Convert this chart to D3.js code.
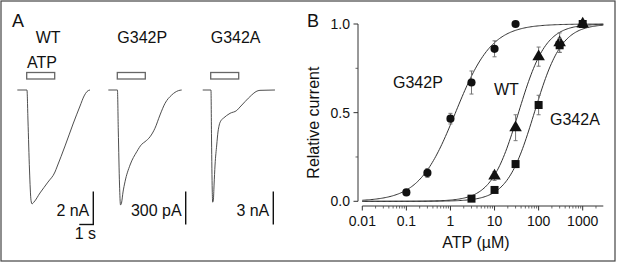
<!DOCTYPE html>
<html>
<head>
<meta charset="utf-8">
<script src="https://cdn.jsdelivr.net/npm/d3@7"></script>
<style>
  body { margin: 0; background: #fff; }
  svg text { font-family: "Liberation Sans", Arial, sans-serif; fill: #111; }
</style>
</head>
<body>
<div id="fig"></div>
<script>
// panel A traces: time (s from ATP onset) and current
const wtTime = [-0.67, 0.02, 0.09, 0.2, 0.31, 0.38, 0.52, 0.95, 1.52, 2.02, 2.16, 2.74, 3.31, 3.81, 4.1, 4.31, 4.52];
const wtCurrent = [0, 0, -1.82, -4.85, -6.7, -6.9, -6.79, -6.24, -5.58, -4.97, -4.67, -3.39, -2.06, -0.97, -0.36, -0.09, 0]; // nA
const pTime = [-0.64, 0.01, 0.07, 0.16, 0.23, 0.3, 0.41, 0.55, 0.91, 1.39, 1.74, 1.98, 2.34, 2.69, 3.05, 3.41, 3.89, 4.36, 4.6];
const pCurrent = [0, 0, -364, -864, -1045, -1027, -927, -834, -682, -561, -494, -470, -425, -348, -227, -121, -45, -6, 0]; // pA
const aTime = [-0.57, 0.02, 0.06, 0.11, 0.14, 0.19, 0.24, 0.31, 0.43, 0.52, 0.61, 0.74, 0.9, 1.38, 1.86, 2.09, 2.45, 2.93, 3.24, 3.52, 4.59];
const aCurrent = [0, 0, -4.55, -9.09, -10.2, -10.0, -8.64, -6.82, -5.0, -3.82, -3.18, -2.77, -2.57, -2.12, -1.86, -1.55, -1.06, -0.45, -0.14, -0.03, 0]; // nA
const traceNames = ["WT", "G342P", "G342A"];
const scaleBarLabels = ["2 nA", "300 pA", "3 nA"];
const scaleBarValues = [2, 300, 3];
const atpDuration = 2; // s

// panel B dose-response
const concP = [0.1, 0.3, 1, 3, 10, 30];
const respP = [0.05, 0.16, 0.466, 0.67, 0.86, 1.0];
const errP = [0, 0.025, 0.03, 0.065, 0.045, 0];
const concWT = [10, 30, 100, 300, 1000];
const respWT = [0.143, 0.415, 0.816, 0.895, 1.0];
const errWT = [0.025, 0.073, 0.054, 0.055, 0];
const concA = [3, 10, 30, 100, 300, 1000];
const respA = [0.015, 0.064, 0.21, 0.543, 0.88, 1.0];
const errA = [0, 0.01, 0.02, 0.055, 0.04, 0.01];
const fitEC50 = [1.3, 35, 80];
const fitHill = [1.05, 1.4, 1.4];
const xTickValues = [0.01, 0.1, 1, 10, 100, 1000];
const xTickLabels = ["0.01", "0.1", "1", "10", "100", "1000"];
const yTickValues = [0, 0.5, 1];

const W = 617, H = 263;
const svg = d3.select("#fig").append("svg")
    .attr("width", W)
    .attr("height", H);

svg.append("rect")
    .attr("x", 1).attr("y", 1)
    .attr("width", 614).attr("height", 260)
    .attr("fill", "none")
    .attr("stroke", "#444")
    .attr("stroke-width", 1.2);

// ---------- Panel A ----------
svg.append("text").attr("x", 12).attr("y", 27).attr("font-size", "18px").text("A");

const pxPerSec = 14;
const traces = [
    {t: wtTime, i: wtCurrent, x0: 26.7},
    {t: pTime, i: pCurrent, x0: 117.3},
    {t: aTime, i: aCurrent, x0: 210.7}
];
const baseY = 90;

traces.forEach((tr, k) => {
    let g = svg.append("g");
    let x = d3.scaleLinear().domain([0, 1]).range([tr.x0, tr.x0 + pxPerSec]);
    let y = d3.scaleLinear().domain([0, -scaleBarValues[k]]).range([baseY, baseY + 33]);

    g.append("text")
        .attr("x", tr.x0 + (k === 0 ? 9 : 0))
        .attr("y", 43)
        .attr("font-size", "16px")
        .text(traceNames[k]);

    g.append("rect")
        .attr("x", x(0)).attr("y", 72.5)
        .attr("width", x(atpDuration) - x(0)).attr("height", 6.5)
        .attr("fill", "#fff")
        .attr("stroke", "#666")
        .attr("stroke-width", 1.3);

    let line = d3.line()
        .x((d, j) => x(tr.t[j]))
        .y((d, j) => y(tr.i[j]))
        .curve(d3.curveMonotoneX);

    g.append("path")
        .datum(tr.t)
        .attr("d", line)
        .attr("fill", "none")
        .attr("stroke", "#3a3a3a")
        .attr("stroke-width", 0.9);

    // scale bar
    let barX = [93.3, 185.7, 273.3][k];
    let barTop = 191.5;
    let barLen = y(-scaleBarValues[k]) - y(0);
    g.append("line")
        .attr("x1", barX).attr("x2", barX)
        .attr("y1", barTop).attr("y2", barTop + barLen)
        .attr("stroke", "#111").attr("stroke-width", 1.4);
    g.append("text")
        .attr("x", barX - 4)
        .attr("y", 216)
        .attr("text-anchor", "end")
        .attr("font-size", "16px")
        .text(scaleBarLabels[k]);
    if (k === 0) {
        g.append("line")
            .attr("x1", barX - pxPerSec).attr("x2", barX + 0.7)
            .attr("y1", barTop + barLen).attr("y2", barTop + barLen)
            .attr("stroke", "#111").attr("stroke-width", 1.4);
        g.append("text")
            .attr("x", barX - 8)
            .attr("y", 239)
            .attr("text-anchor", "middle")
            .attr("font-size", "16px")
            .text("1 s");
    }
});

svg.append("text").attr("x", 27).attr("y", 68).attr("font-size", "16px").text("ATP");

// ---------- Panel B ----------
svg.append("text").attr("x", 307).attr("y", 27).attr("font-size", "18px").text("B");

let x = d3.scaleLog().domain([0.01, 1000]).range([362.3, 582.7]);
let y = d3.scaleLinear().domain([0, 1]).range([201.3, 24]);
const xEnd = x.invert(603.3);

// x axis (detached, below)
let xAxisY = 206;
let xg = svg.append("g").attr("transform", `translate(0,${xAxisY})`);
xg.append("line")
    .attr("x1", x(0.01)).attr("x2", x(xEnd))
    .attr("stroke", "#333").attr("stroke-width", 1);
let minorTicks = [];
xTickValues.forEach(v => {
    for (let m = 2; m <= 9; m++) {
        if (v * m <= xEnd) minorTicks.push(v * m);
    }
});
xg.selectAll(".minor").data(minorTicks).join("line")
    .attr("class", "minor")
    .attr("x1", d => x(d)).attr("x2", d => x(d))
    .attr("y1", 0).attr("y2", 2.5)
    .attr("stroke", "#444").attr("stroke-width", 0.8);
xg.selectAll(".major").data(xTickValues).join("line")
    .attr("class", "major")
    .attr("x1", d => x(d)).attr("x2", d => x(d))
    .attr("y1", 0).attr("y2", 4.5)
    .attr("stroke", "#333").attr("stroke-width", 1);
xg.selectAll(".lab").data(xTickValues).join("text")
    .attr("class", "lab")
    .attr("x", d => x(d))
    .attr("y", 20)
    .attr("text-anchor", "middle")
    .attr("font-size", "14px")
    .text((d, i) => xTickLabels[i]);
svg.append("text")
    .attr("x", 476)
    .attr("y", 248)
    .attr("text-anchor", "middle")
    .attr("font-size", "16px")
    .text("ATP (µM)");

// y axis (detached, left)
let yAxisX = 358;
let yg = svg.append("g").attr("transform", `translate(${yAxisX},0)`);
yg.append("line")
    .attr("y1", y(0)).attr("y2", y(1))
    .attr("stroke", "#333").attr("stroke-width", 1);
yg.selectAll(".ymaj").data(yTickValues).join("line")
    .attr("x1", -4.5).attr("x2", 0)
    .attr("y1", d => y(d)).attr("y2", d => y(d))
    .attr("stroke", "#333").attr("stroke-width", 1);
yg.selectAll(".ymin").data([0.25, 0.75]).join("line")
    .attr("x1", -2.5).attr("x2", 0)
    .attr("y1", d => y(d)).attr("y2", d => y(d))
    .attr("stroke", "#444").attr("stroke-width", 0.8);
yg.selectAll(".ylab").data(yTickValues).join("text")
    .attr("x", -8)
    .attr("y", d => y(d) + 5)
    .attr("text-anchor", "end")
    .attr("font-size", "14px")
    .text(d => d3.format(".1f")(d));
svg.append("text")
    .attr("transform", `translate(319,${(y(0) + y(1)) / 2 + 10}) rotate(-90)`)
    .attr("text-anchor", "middle")
    .attr("font-size", "16px")
    .text("Relative current");

// Hill fits
const concs = [concP, concWT, concA];
const resps = [respP, respWT, respA];
const errs = [errP, errWT, errA];
let logGrid = d3.range(0, 201).map(j => Math.pow(10, -2 + j * (Math.log10(xEnd) + 2) / 200));
fitEC50.forEach((ec, k) => {
    let n = fitHill[k];
    let fit = d3.line()
        .x(d => x(d))
        .y(d => y(Math.pow(d / ec, n) / (1 + Math.pow(d / ec, n))));
    svg.append("path")
        .datum(logGrid)
        .attr("d", fit)
        .attr("fill", "none")
        .attr("stroke", "#333")
        .attr("stroke-width", 1);
});

// error bars and markers
const symbols = [d3.symbolCircle, d3.symbolTriangle, d3.symbolSquare];
const symSizes = [52, 68, 64];
concs.forEach((cs, k) => {
    let g = svg.append("g");
    cs.forEach((c, j) => {
        let e = errs[k][j];
        if (e > 0) {
            let cx = x(c);
            g.append("line")
                .attr("x1", cx).attr("x2", cx)
                .attr("y1", y(resps[k][j] - e)).attr("y2", y(resps[k][j] + e))
                .attr("stroke", "#777").attr("stroke-width", 1);
            [resps[k][j] - e, resps[k][j] + e].forEach(v => {
                g.append("line")
                    .attr("x1", cx - 2).attr("x2", cx + 2)
                    .attr("y1", y(v)).attr("y2", y(v))
                    .attr("stroke", "#777").attr("stroke-width", 1);
            });
        }
    });
    g.selectAll("path").data(cs).join("path")
        .attr("d", d3.symbol().type(symbols[k]).size(symSizes[k]))
        .attr("transform", (d, j) => `translate(${x(d)},${y(resps[k][j])})`)
        .attr("fill", "#111");
});

// curve labels
svg.append("text").attr("x", 393).attr("y", 88).attr("font-size", "16px").text("G342P");
svg.append("text").attr("x", 494).attr("y", 95).attr("font-size", "16px").text("WT");
svg.append("text").attr("x", 550).attr("y", 125).attr("font-size", "16px").text("G342A");
</script>
</body>
</html>
